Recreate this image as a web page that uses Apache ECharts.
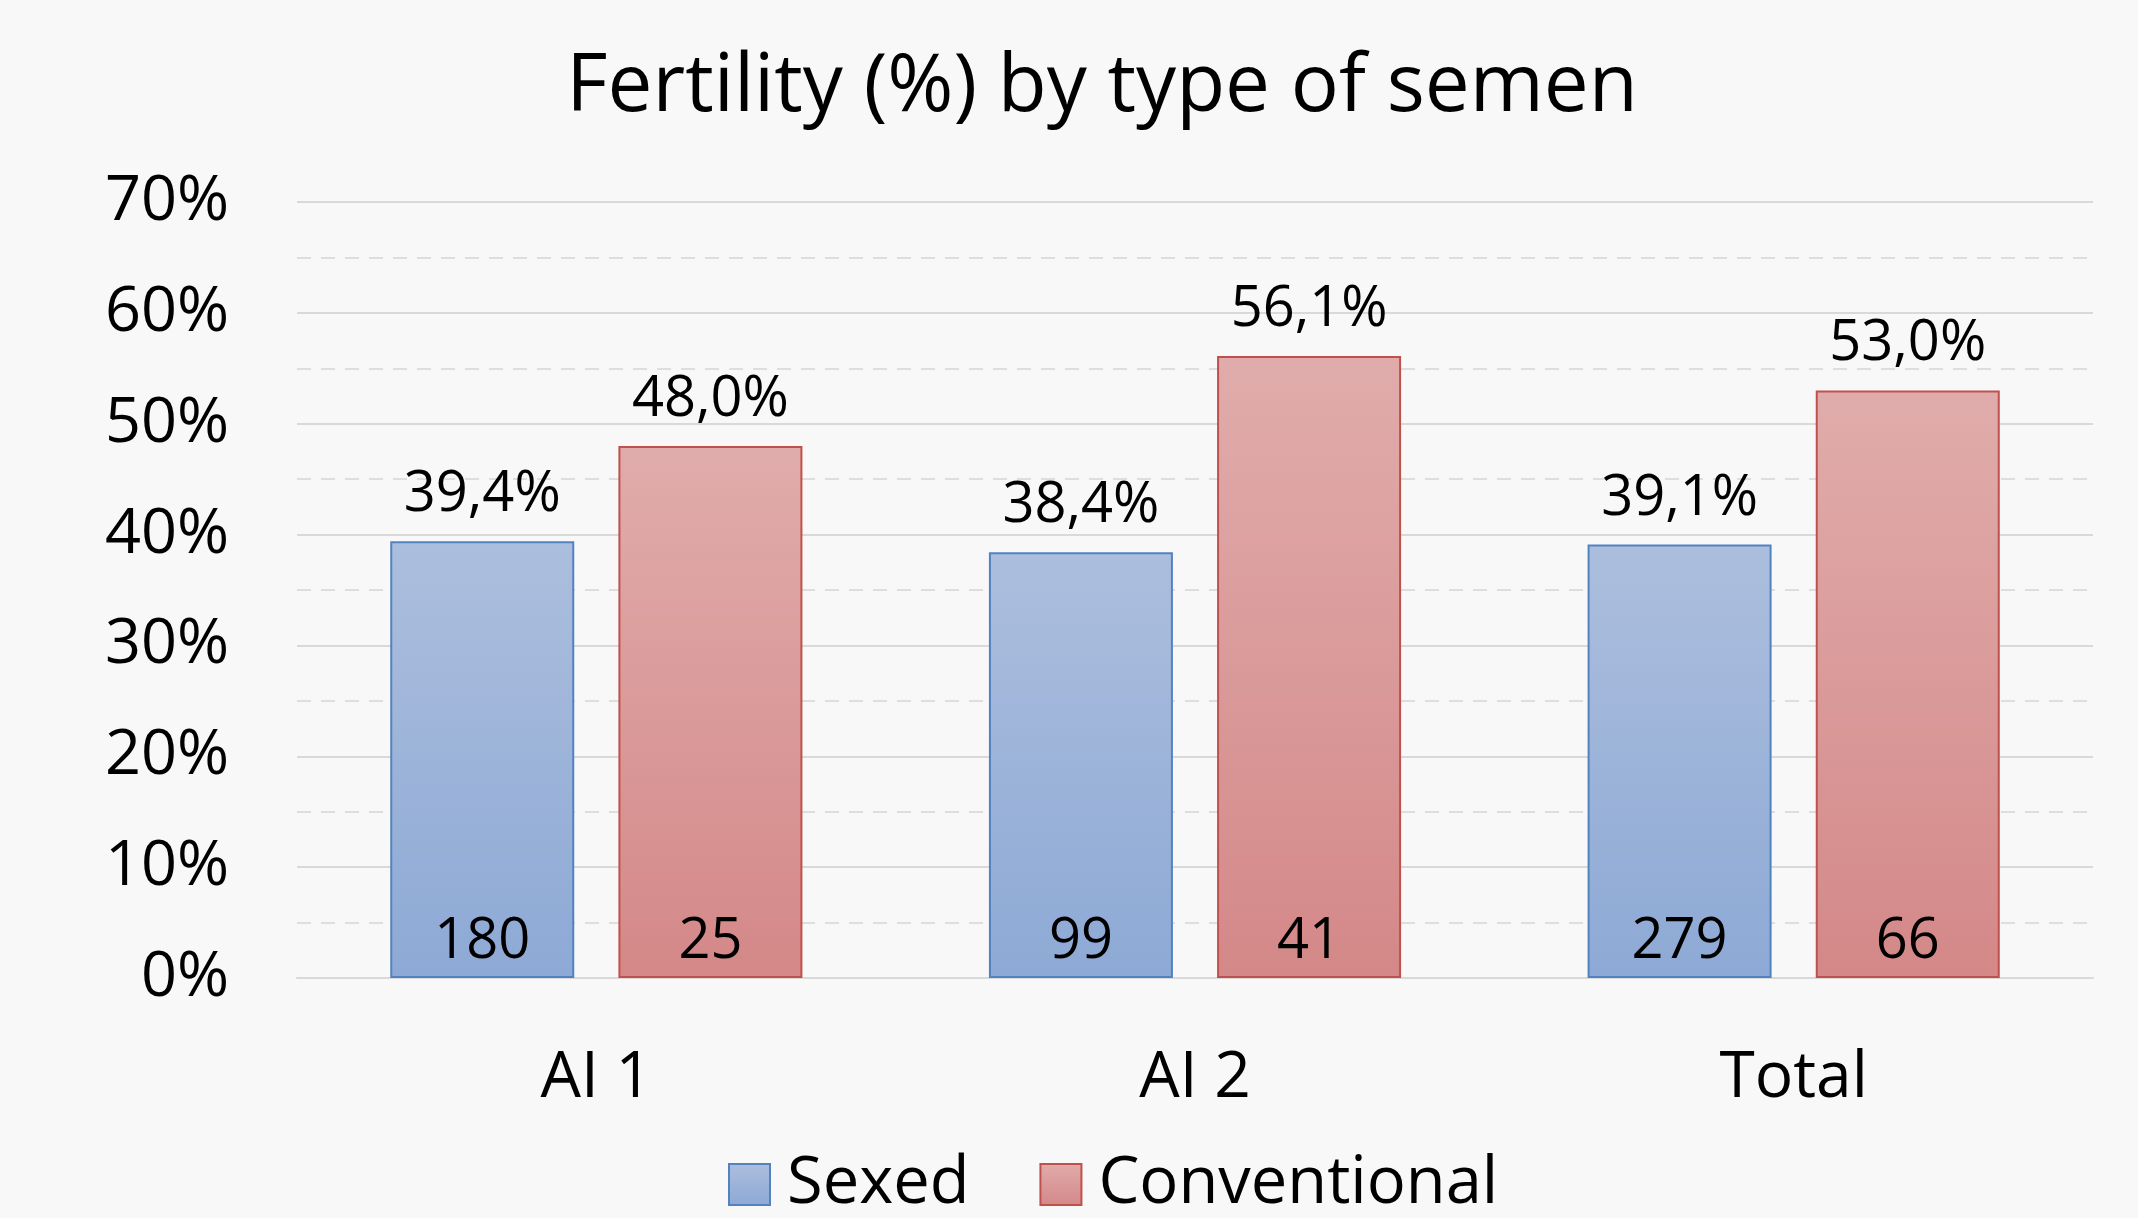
<!DOCTYPE html>
<html>
<head>
<meta charset="utf-8">
<script src="https://cdn.jsdelivr.net/npm/echarts@6/dist/echarts.min.js"></script>
<style>
html,body{margin:0;padding:0;background:#f8f8f8;}
#chart{width:2138px;height:1218px;}
</style>
</head>
<body>
<div id="chart"></div>
<script>
const titleText = 'Fertility (%) by type of semen';
const categories = ['AI 1', 'AI 2', 'Total'];
const seriesNames = ['Sexed', 'Conventional'];
const sexedPct = [39.4, 38.4, 39.1];
const conventionalPct = [48.0, 56.1, 53.0];
const sexedCount = [180, 99, 279];
const conventionalCount = [25, 41, 66];
const yTicks = [0, 10, 20, 30, 40, 50, 60, 70];

const FONT = '"Open Sans", "Noto Sans", sans-serif';

function grad(top, bottom) {
  return new echarts.graphic.LinearGradient(0, 0, 0, 1, [
    {offset: 0, color: top}, {offset: 1, color: bottom}
  ]);
}
const blueFill = grad('#acbedd', '#8da9d5');
const redFill = grad('#e0acab', '#d48888');
const pctFmt = p => p.value.toFixed(1).replace('.', ',') + '%';

const chart = echarts.init(document.getElementById('chart'), null, {renderer: 'canvas'});
chart.setOption({
  backgroundColor: '#f8f8f8',
  animation: false,
  title: {
    text: titleText,
    left: 1102,
    textAlign: 'center',
    top: 48,
    padding: 0,
    textStyle: {fontFamily: FONT, fontSize: 80, fontWeight: 'normal', color: '#000'}
  },
  legend: {
    data: seriesNames,
    icon: 'rect',
    left: 728,
    top: 1152,
    padding: 0,
    itemWidth: 41,
    itemHeight: 41,
    itemGap: 70,
    textStyle: {fontFamily: FONT, fontSize: 65, color: '#000', padding: [0, 0, 0, 12]}
  },
  grid: {left: 297, right: 45, top: 202, bottom: 240, containLabel: false},
  xAxis: [{
    type: 'category',
    data: categories,
    axisLine: {show: true, lineStyle: {color: '#d9d9d9', width: 2}},
    axisTick: {show: false},
    axisLabel: {fontFamily: FONT, fontSize: 64, color: '#000', margin: 69}
  }, {
    type: 'category',
    data: categories,
    show: false
  }],
  yAxis: {
    type: 'value',
    min: yTicks[0],
    max: yTicks[yTicks.length - 1],
    interval: 10,
    axisLine: {show: false},
    axisTick: {show: false},
    axisLabel: {fontFamily: FONT, fontSize: 63, color: '#000', margin: 68, formatter: '{value}%'},
    splitLine: {show: true, lineStyle: {color: '#d9d9d9', width: 2}},
    minorTick: {show: false, splitNumber: 2},
    minorSplitLine: {show: true, lineStyle: {color: '#dedede', width: 2, type: [14, 10]}}
  },
  series: [{
    name: seriesNames[0],
    type: 'bar',
    xAxisIndex: 0,
    data: sexedPct,
    barWidth: 184,
    barGap: '24%',
    itemStyle: {color: blueFill, borderColor: '#5282bf', borderWidth: 2},
    label: {show: true, position: 'top', distance: 18, fontFamily: FONT, fontSize: 56, color: '#000', formatter: pctFmt}
  }, {
    name: seriesNames[1],
    type: 'bar',
    xAxisIndex: 0,
    data: conventionalPct,
    barWidth: 184,
    barGap: '24%',
    itemStyle: {color: redFill, borderColor: '#c0504d', borderWidth: 2},
    label: {show: true, position: 'top', distance: 18, fontFamily: FONT, fontSize: 56, color: '#000', formatter: pctFmt}
  }, {
    name: 'sexedCountLabels',
    type: 'bar',
    xAxisIndex: 1,
    data: sexedPct,
    barWidth: 184,
    barGap: '24%',
    silent: true,
    itemStyle: {color: 'rgba(0,0,0,0)'},
    label: {show: true, position: 'insideBottom', distance: 8, fontFamily: FONT, fontSize: 56, color: '#000',
      formatter: p => String(sexedCount[p.dataIndex])}
  }, {
    name: 'convCountLabels',
    type: 'bar',
    xAxisIndex: 1,
    data: conventionalPct,
    barWidth: 184,
    barGap: '24%',
    silent: true,
    itemStyle: {color: 'rgba(0,0,0,0)'},
    label: {show: true, position: 'insideBottom', distance: 8, fontFamily: FONT, fontSize: 56, color: '#000',
      formatter: p => String(conventionalCount[p.dataIndex])}
  }]
});
</script>
</body>
</html>
